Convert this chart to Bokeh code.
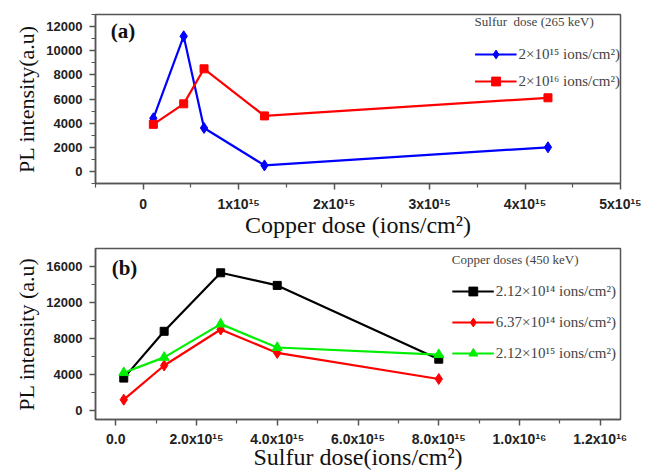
from bokeh.plotting import figure
from bokeh.models import FixedTicker, CustomJSTickFormatter, Label
from bokeh.layouts import column
from bokeh.embed import file_html
from bokeh.resources import INLINE

# ---- panel (a) data ----
cu_dose = [1.06e14, 4.24e14, 6.37e14, 1.27e15, 4.24e15]
pl_s_2e15 = [4400, 11200, 3600, 500, 2000]
pl_s_2e16 = [3900, 5600, 8500, 4600, 6100]
a_series_labels = ["2×10¹⁵ ions/cm²)", "2×10¹⁶ ions/cm²)"]
a_xticks = [0, 1e15, 2e15, 3e15, 4e15, 5e15]
a_xticklabels = ["0", "1x10¹⁵", "2x10¹⁵", "3x10¹⁵", "4x10¹⁵", "5x10¹⁵"]
a_xminor = [-5e14, 5e14, 1.5e15, 2.5e15, 3.5e15, 4.5e15]
a_yticks = [0, 2000, 4000, 6000, 8000, 10000, 12000]
a_yminor = [-1000, 1000, 3000, 5000, 7000, 9000, 11000, 13000]

# ---- panel (b) data ----
s_dose = [0.2e15, 1.2e15, 2.6e15, 4.0e15, 8.0e15]
pl_cu_212e14 = [3600, 8800, 15300, 13900, 5700]
pl_cu_637e14 = [1200, 5000, 9000, 6400, 3500]
pl_cu_212e15 = [4200, 5900, 9600, 7000, 6200]
b_series_labels = ["2.12×10¹⁴ ions/cm²)", "6.37×10¹⁴ ions/cm²)", "2.12×10¹⁵ ions/cm²)"]
b_xticks = [0, 2e15, 4e15, 6e15, 8e15, 1e16, 1.2e16]
b_xticklabels = ["0.0", "2.0x10¹⁵", "4.0x10¹⁵", "6.0x10¹⁵", "8.0x10¹⁵", "1.0x10¹⁶", "1.2x10¹⁶"]
b_xminor = [1e15, 3e15, 5e15, 7e15, 9e15, 1.1e16]
b_yticks = [0, 4000, 8000, 12000, 16000]
b_yminor = [2000, 6000, 10000, 14000]

SERIF = "Liberation Serif"
SANS = "Liberation Sans"
AXC = "#555555"
BLUE = "#0000ff"
RED = "#ff0000"
GREEN = "#00ee00"


def fmt(ticks, labels):
    return CustomJSTickFormatter(args=dict(t=ticks, l=labels), code="""
        for (let i = 0; i < t.length; i++) {
            if (Math.abs(t[i] - tick) <= Math.abs(t[i]) * 1e-6 + 1e-9) return l[i];
        }
        return '';
    """)


def style(p, xlabel, ylabel, xt, xl, xm, yt, ym, x_std, x_lab_std):
    p.grid.visible = False
    p.outline_line_color = AXC
    p.outline_line_width = 1.5
    p.xaxis.ticker = FixedTicker(ticks=xt, minor_ticks=xm)
    p.xaxis.formatter = fmt(xt, xl)
    p.yaxis.ticker = FixedTicker(ticks=yt, minor_ticks=ym)
    for ax in (p.xaxis[0], p.yaxis[0]):
        ax.axis_line_color = AXC
        ax.axis_line_width = 1.5
        ax.major_tick_line_color = AXC
        ax.minor_tick_line_color = AXC
        ax.major_tick_line_width = 1.5
        ax.minor_tick_line_width = 1.2
        ax.major_tick_out = 6
        ax.major_tick_in = 0
        ax.minor_tick_out = 4
        ax.minor_tick_in = 0
        ax.major_label_text_font = SANS
        ax.major_label_text_font_style = "bold"
        ax.major_label_text_font_size = "13px"
        ax.major_label_text_color = "#222222"
        ax.axis_label_text_font = SERIF
        ax.axis_label_text_font_style = "normal"
        ax.axis_label_text_color = "#111111"
    p.xaxis.major_label_text_font_size = "14px"
    p.xaxis.axis_label = xlabel
    p.yaxis.axis_label = ylabel
    p.xaxis.axis_label_text_font_size = "24px"
    p.yaxis.axis_label_text_font_size = "22px"
    p.xaxis.major_label_standoff = x_std
    p.xaxis.axis_label_standoff = x_lab_std
    p.yaxis.major_label_standoff = 7
    p.yaxis.axis_label_standoff = 4


# ---------- panel (a) ----------
pa = figure(width=647, height=240, output_backend="svg", toolbar_location=None,
            x_range=(-5e14, 5e15), y_range=(-1000, 13000),
            min_border_left=95, min_border_right=27, min_border_top=14, min_border_bottom=56)
style(pa, "Copper dose (ions/cm²)", "PL intensity(a.u)",
      a_xticks, a_xticklabels, a_xminor, a_yticks, a_yminor, 6, -3)

pa.line(cu_dose, pl_s_2e15, color=BLUE, line_width=2.2, legend_label=a_series_labels[0])
pa.scatter(cu_dose, pl_s_2e15, marker="diamond", size=11, color=BLUE, legend_label=a_series_labels[0])
pa.line(cu_dose, pl_s_2e16, color=RED, line_width=2.2, legend_label=a_series_labels[1])
pa.scatter(cu_dose, pl_s_2e16, marker="square", size=8, color=RED, legend_label=a_series_labels[1])

pa.add_layout(Label(x=-3.4e14, y=10600, text="(a)", text_font=SERIF, text_font_style="bold",
                    text_font_size="21px", text_color="#111111"))

# ---------- panel (b) ----------
pb = figure(width=647, height=235, output_backend="svg", toolbar_location=None,
            x_range=(-5e14, 1.25e16), y_range=(-1000, 18000),
            min_border_left=95, min_border_right=27, min_border_top=8, min_border_bottom=56)
style(pb, "Sulfur dose(ions/cm²)", "PL intensity (a.u)",
      b_xticks, b_xticklabels, b_xminor, b_yticks, b_yminor, 5, -6)

pb.line(s_dose, pl_cu_212e14, color="#000000", line_width=2.2, legend_label=b_series_labels[0])
pb.scatter(s_dose, pl_cu_212e14, marker="square", size=8, color="#000000", legend_label=b_series_labels[0])
pb.line(s_dose, pl_cu_637e14, color=RED, line_width=2.2, legend_label=b_series_labels[1])
pb.scatter(s_dose, pl_cu_637e14, marker="diamond", size=11, color=RED, legend_label=b_series_labels[1])
pb.line(s_dose, pl_cu_212e15, color=GREEN, line_width=2.2, legend_label=b_series_labels[2])
pb.scatter(s_dose, pl_cu_212e15, marker="triangle", size=10, color=GREEN, legend_label=b_series_labels[2])

pb.add_layout(Label(x=-1e14, y=14500, text="(b)", text_font=SERIF, text_font_style="bold",
                    text_font_size="21px", text_color="#111111"))

for p, title, spacing, standoff, margin in ((pa, "Sulfur  dose (265 keV)", 5, 13, 0),
                                            (pb, "Copper doses (450 keV)", 9, 12, 4)):
    lg = p.legend[0]
    lg.location = "top_right"
    lg.title = title
    lg.title_text_font = SERIF
    lg.title_text_font_style = "normal"
    lg.title_text_font_size = "13px"
    lg.title_standoff = standoff
    lg.label_text_font = SERIF
    lg.label_text_font_size = "15px"
    lg.border_line_color = None
    lg.background_fill_alpha = 0
    lg.glyph_width = 42
    lg.glyph_height = 22
    lg.label_height = 22
    lg.label_standoff = 2
    lg.spacing = spacing
    lg.padding = 2
    lg.margin = margin

layout = column(pa, pb, spacing=0)
open("out.html", "w").write(file_html(layout, INLINE))
